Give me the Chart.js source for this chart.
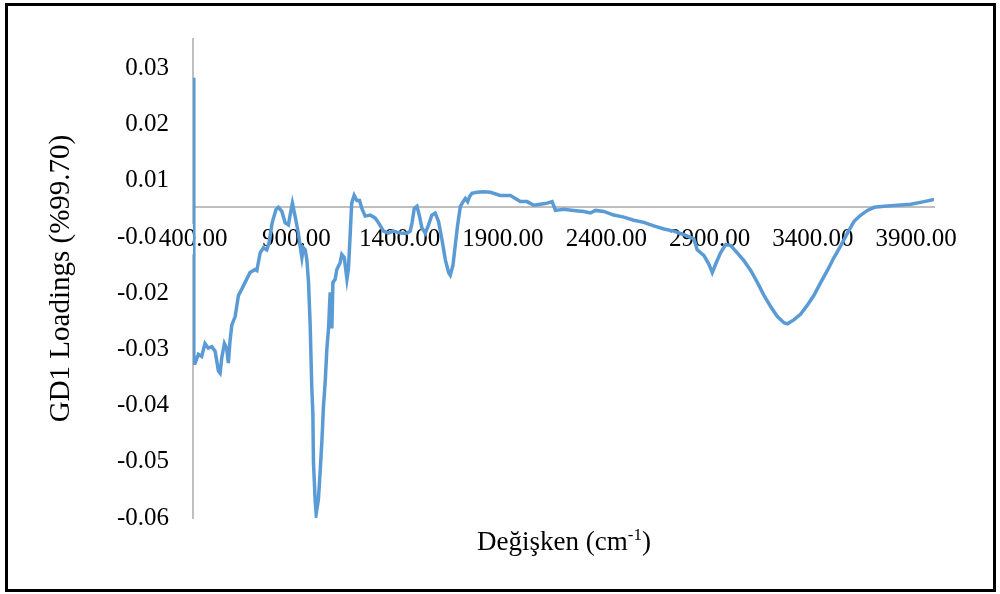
<!DOCTYPE html>
<html>
<head>
<meta charset="utf-8">
<script src="https://cdn.jsdelivr.net/npm/chart.js@4.4.1/dist/chart.umd.min.js"></script>
<style>
  html, body { margin: 0; padding: 0; background: #fff; }
  #wrap { position: relative; width: 1000px; height: 594px; }
  #frame { position: absolute; left: 5px; top: 3px; width: 985px; height: 583px; border: 3px solid #000; pointer-events: none; }
  canvas { position: absolute; left: 0; top: 0; }
</style>
</head>
<body>
<div id="wrap">
  <canvas id="chart" width="1000" height="594" style="width:1000px;height:594px"></canvas>
  <div id="frame"></div>
</div>
<script>
// wavenumber (cm-1) and GD1 loading
const waveNumbers = [
  400, 404, 410, 426, 442, 458, 474, 491, 507, 523, 531, 539, 552, 563, 571, 579, 588, 604, 620, 636,
  652, 676, 700, 709, 716, 725, 741, 757, 768, 783, 802, 813, 830, 846, 862, 870, 881, 894, 910, 918,
  927, 934, 943, 951, 959, 967, 975, 980, 983, 991, 996, 1007, 1015, 1024, 1031, 1040, 1048, 1056, 1060, 1064,
  1072, 1077, 1088, 1096, 1112, 1120, 1132, 1145, 1152, 1161, 1168, 1180, 1193, 1206, 1217, 1233, 1258, 1282, 1298, 1322,
  1346, 1370, 1387, 1411, 1435, 1451, 1460, 1471, 1484, 1496, 1508, 1524, 1540, 1556, 1572, 1588, 1605, 1621, 1637, 1645,
  1658, 1669, 1680, 1694, 1707, 1718, 1729, 1739, 1750, 1774, 1806, 1839, 1887, 1936, 1960, 1984, 2017, 2049, 2081, 2114,
  2138, 2154, 2194, 2242, 2291, 2323, 2348, 2388, 2436, 2485, 2533, 2582, 2630, 2679, 2727, 2776, 2824, 2840, 2872, 2897,
  2913, 2929, 2953, 2978, 3002, 3034, 3066, 3099, 3131, 3163, 3196, 3228, 3260, 3277, 3309, 3341, 3373, 3405, 3438, 3470,
  3502, 3535, 3567, 3599, 3632, 3664, 3696, 3745, 3809, 3874, 3938, 3986
];
const loadings = [
  0.0250, -0.0301, -0.0301, -0.0284, -0.0288, -0.0263, -0.0272, -0.0269, -0.0278, -0.0316, -0.0320, -0.0291, -0.0263, -0.0272, -0.0301, -0.0259, -0.0227, -0.0211, -0.0170, -0.0158,
  -0.0145, -0.0126, -0.0120, -0.0122, -0.0107, -0.0088, -0.0078, -0.0082, -0.0069, -0.0030, -0.0004, 0.0000, -0.0008, -0.0030, -0.0034, -0.0015, 0.0008, -0.0017, -0.0050, -0.0074,
  -0.0097, -0.0078, -0.0082, -0.0101, -0.0145, -0.0227, -0.0349, -0.0398, -0.0493, -0.0564, -0.0592, -0.0564, -0.0512, -0.0450, -0.0387, -0.0335, -0.0272, -0.0234, -0.0196, -0.0164,
  -0.0234, -0.0145, -0.0139, -0.0120, -0.0107, -0.0091, -0.0097, -0.0139, -0.0120, -0.0050, 0.0008, 0.0023, 0.0013, 0.0013, -0.0002, -0.0017, -0.0015, -0.0021, -0.0030, -0.0046,
  -0.0050, -0.0046, -0.0048, -0.0050, -0.0050, -0.0046, -0.0030, -0.0002, 0.0002, -0.0017, -0.0040, -0.0050, -0.0034, -0.0015, -0.0011, -0.0027, -0.0063, -0.0101, -0.0126, -0.0131,
  -0.0112, -0.0074, -0.0036, 0.0002, 0.0011, 0.0017, 0.0011, 0.0021, 0.0027, 0.0029, 0.0030, 0.0029, 0.0023, 0.0023, 0.0017, 0.0011, 0.0011, 0.0004, 0.0006, 0.0008,
  0.0011, -0.0006, -0.0004, -0.0006, -0.0008, -0.0011, -0.0006, -0.0008, -0.0015, -0.0019, -0.0025, -0.0029, -0.0036, -0.0042, -0.0046, -0.0053, -0.0061, -0.0082, -0.0093, -0.0110,
  -0.0126, -0.0110, -0.0088, -0.0072, -0.0074, -0.0088, -0.0103, -0.0122, -0.0145, -0.0170, -0.0192, -0.0211, -0.0223, -0.0225, -0.0217, -0.0206, -0.0189, -0.0170, -0.0145, -0.0122,
  -0.0097, -0.0074, -0.0050, -0.0027, -0.0015, -0.0006, 0.0000, 0.0002, 0.0004, 0.0006, 0.0011, 0.0015
];

const xTickValues = [400, 900, 1400, 1900, 2400, 2900, 3400, 3900];
const xTickLabels = ['400.00', '900.00', '1400.00', '1900.00', '2400.00', '2900.00', '3400.00', '3900.00'];
// y labels as printed in the original, bottom to top
const yTickLabels = ['-0.06', '-0.05', '-0.04', '-0.03', '-0.02', '-0.01', '0.01', '0.02', '0.03'];

const FONT = '"Liberation Serif", "Times New Roman", serif';

// x axis title with superscript, drawn under the plot
const xTitlePlugin = {
    id: 'xTitle',
    afterDraw(chart) {
        const ctx = chart.ctx;
        const main = 'Değişken (cm';
        const sup = '-1';
        const end = ')';
        ctx.save();
        ctx.fillStyle = '#000';
        ctx.textBaseline = 'alphabetic';
        ctx.font = '27px ' + FONT;
        const wMain = ctx.measureText(main).width;
        const wEnd = ctx.measureText(end).width;
        ctx.font = '17px ' + FONT;
        const wSup = ctx.measureText(sup).width;
        let x = 564 - (wMain + wSup + wEnd) / 2;
        const y = 550;
        ctx.font = '27px ' + FONT;
        ctx.fillText(main, x, y);
        x += wMain;
        ctx.font = '17px ' + FONT;
        ctx.fillText(sup, x, y - 10);
        x += wSup;
        ctx.font = '27px ' + FONT;
        ctx.fillText(end, x, y);
        ctx.restore();
    }
};

const ctx = document.getElementById('chart').getContext('2d');

new Chart(ctx, {
    type: 'line',
    data: {
        datasets: [{
            data: waveNumbers.map((w, i) => ({ x: w, y: loadings[i] })),
            borderColor: '#5B9BD5',
            borderWidth: 3.5,
            pointRadius: 0,
            tension: 0,
            fill: false
        }]
    },
    options: {
        responsive: false,
        animation: false,
        layout: { padding: { left: 10, right: 66, top: 35, bottom: 76 } },
        plugins: {
            legend: { display: false },
            tooltip: { enabled: false }
        },
        scales: {
            y: {
                type: 'linear',
                position: 'left',
                min: -0.06,
                max: 0.0325,
                afterFit: s => { s.width = 183; },
                afterBuildTicks: s => {
                    const topLabel = 0.0268;
                    const n = yTickLabels.length;
                    s.ticks = yTickLabels.map((t, i) => ({ value: s.min + (topLabel - s.min) * i / (n - 1) }));
                },
                ticks: {
                    callback: (v, i) => yTickLabels[i],
                    padding: 24,
                    color: '#000',
                    font: { family: FONT, size: 25 }
                },
                grid: { display: false, drawTicks: false },
                border: { display: true, color: '#bfbfbf', width: 2 },
                title: {
                    display: true,
                    text: 'GD1 Loadings (%99.70)',
                    color: '#000',
                    font: { family: FONT, size: 29 },
                    padding: { top: 34, bottom: 0 }
                }
            },
            x: {
                type: 'linear',
                position: { y: 0 },
                min: 400,
                max: 3986,
                afterBuildTicks: s => {
                    s.ticks = xTickValues.map(v => ({ value: v }));
                },
                ticks: {
                    callback: (v, i) => xTickLabels[i],
                    autoSkip: false,
                    maxRotation: 0,
                    padding: 17,
                    color: '#000',
                    font: { family: FONT, size: 25 },
                    showLabelBackdrop: c => c.index === 0,
                    backdropColor: '#fff',
                    backdropPadding: 0
                },
                grid: { display: false, drawTicks: false },
                border: { display: true, color: '#bfbfbf', width: 2 }
            }
        }
    },
    plugins: [xTitlePlugin]
});
</script>
</body>
</html>
